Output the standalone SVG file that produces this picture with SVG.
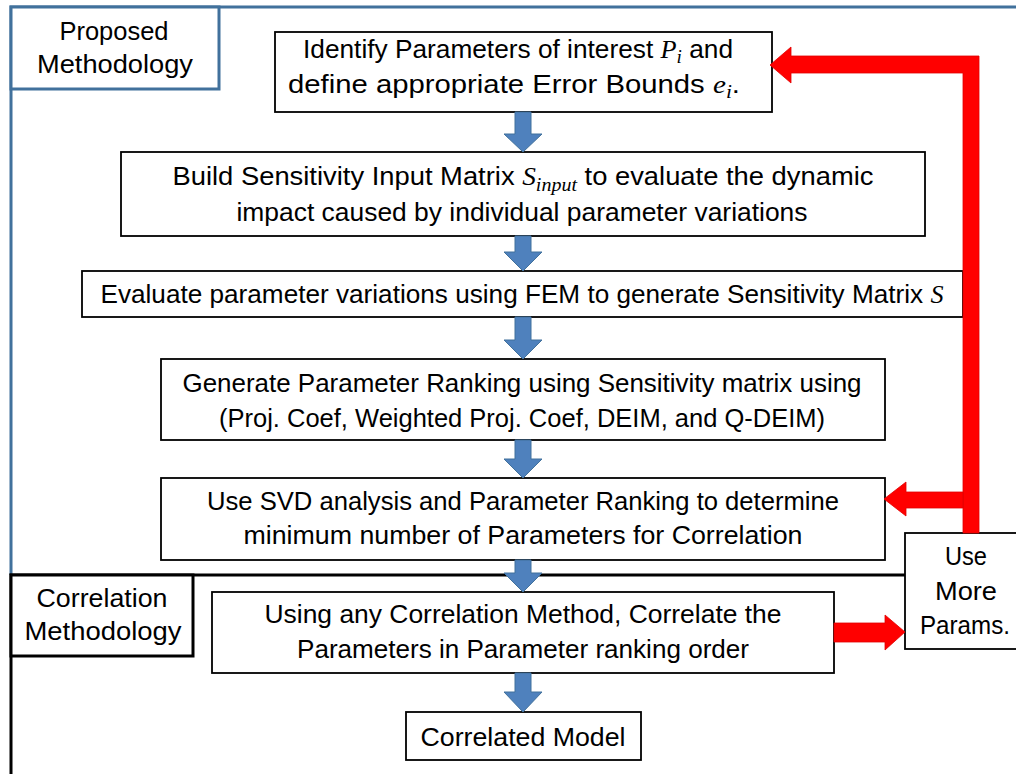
<svg xmlns="http://www.w3.org/2000/svg" width="1016" height="774" viewBox="0 0 1016 774">
  <style>
    .box { fill: #ffffff; stroke: #000000; stroke-width: 1.8; }
    .t { font-family: "Liberation Sans", Arial, sans-serif; font-size: 26px; fill: #000000; }
    .m { font-family: "Liberation Serif", "Times New Roman", serif; font-style: italic; }
    .sub { font-family: "Liberation Serif", "Times New Roman", serif; font-style: italic; font-size: 19px; }
    .flow { fill: #4F81BD; stroke: #41719C; stroke-width: 1; }
    .loop { fill: #FF0000; stroke: #E00000; stroke-width: 0.8; }
  </style>

  <rect width="1016" height="774" fill="#ffffff"/>

  <!-- section frames -->
  <g id="frame-proposed">
    <path d="M 11 575 L 11 7 L 1020 7" fill="none" stroke="#41719C" stroke-width="3"/>
    <rect x="11" y="7" width="208" height="82" fill="#ffffff" stroke="#41719C" stroke-width="3"/>
    <text class="t" x="114" y="40" text-anchor="middle" textLength="109" lengthAdjust="spacingAndGlyphs">Proposed</text>
    <text class="t" x="115" y="73" text-anchor="middle" textLength="156" lengthAdjust="spacingAndGlyphs">Methodology</text>
  </g>
  <g id="frame-correlation">
    <path d="M 11 774 L 11 575 L 905 575" fill="none" stroke="#000000" stroke-width="3"/>
    <rect x="11" y="575" width="182" height="81" fill="#ffffff" stroke="#000000" stroke-width="3"/>
    <text class="t" x="102" y="607" text-anchor="middle" textLength="131" lengthAdjust="spacingAndGlyphs">Correlation</text>
    <text class="t" x="103" y="640" text-anchor="middle" textLength="157" lengthAdjust="spacingAndGlyphs">Methodology</text>
  </g>

  <!-- process steps -->
  <g id="step-identify">
    <rect class="box" x="275" y="32" width="497" height="80"/>
    <text class="t" x="518" y="58" text-anchor="middle" textLength="430" lengthAdjust="spacingAndGlyphs">Identify Parameters of interest <tspan class="m">P</tspan><tspan class="sub" dy="5">i</tspan><tspan dy="-5"> and</tspan></text>
    <text class="t" x="514" y="93" text-anchor="middle" textLength="452" lengthAdjust="spacingAndGlyphs">define appropriate Error Bounds <tspan class="m">e</tspan><tspan class="sub" dy="5">i</tspan><tspan dy="-5">.</tspan></text>
  </g>
  <g id="step-input-matrix">
    <rect class="box" x="121" y="152" width="804" height="84"/>
    <text class="t" x="523" y="185" text-anchor="middle" textLength="701" lengthAdjust="spacingAndGlyphs">Build Sensitivity Input Matrix <tspan class="m">S</tspan><tspan class="sub" dy="6">input</tspan><tspan dy="-6"> to evaluate the dynamic</tspan></text>
    <text class="t" x="522" y="221" text-anchor="middle" textLength="571" lengthAdjust="spacingAndGlyphs">impact caused by individual parameter variations</text>
  </g>
  <g id="step-fem">
    <rect class="box" x="82" y="271" width="881" height="46"/>
    <text class="t" x="522" y="303" text-anchor="middle" textLength="843" lengthAdjust="spacingAndGlyphs">Evaluate parameter variations using FEM to generate Sensitivity Matrix <tspan class="m">S</tspan></text>
  </g>
  <g id="step-ranking">
    <rect class="box" x="161" y="359" width="724" height="81"/>
    <text class="t" x="522" y="392" text-anchor="middle" textLength="679" lengthAdjust="spacingAndGlyphs">Generate Parameter Ranking using Sensitivity matrix using</text>
    <text class="t" x="522" y="427" text-anchor="middle" textLength="606" lengthAdjust="spacingAndGlyphs">(Proj. Coef, Weighted Proj. Coef, DEIM, and Q-DEIM)</text>
  </g>
  <g id="step-svd">
    <rect class="box" x="161" y="478" width="724" height="82"/>
    <text class="t" x="523" y="510" text-anchor="middle" textLength="632" lengthAdjust="spacingAndGlyphs">Use SVD analysis and Parameter Ranking to determine</text>
    <text class="t" x="523" y="544" text-anchor="middle" textLength="559" lengthAdjust="spacingAndGlyphs">minimum number of Parameters for Correlation</text>
  </g>
  <g id="step-correlate">
    <rect class="box" x="212" y="592" width="622" height="81"/>
    <text class="t" x="523" y="623" text-anchor="middle" textLength="517" lengthAdjust="spacingAndGlyphs">Using any Correlation Method, Correlate the</text>
    <text class="t" x="523" y="658" text-anchor="middle" textLength="452" lengthAdjust="spacingAndGlyphs">Parameters in Parameter ranking order</text>
  </g>
  <g id="step-model">
    <rect class="box" x="406" y="712" width="235" height="48"/>
    <text class="t" x="523" y="746" text-anchor="middle" textLength="205" lengthAdjust="spacingAndGlyphs">Correlated Model</text>
  </g>
  <g id="step-more-params">
    <rect class="box" x="905" y="533" width="120" height="116"/>
    <text class="t" x="966" y="565" text-anchor="middle" textLength="42" lengthAdjust="spacingAndGlyphs">Use</text>
    <text class="t" x="966" y="600" text-anchor="middle" textLength="62" lengthAdjust="spacingAndGlyphs">More</text>
    <text class="t" x="965" y="634" text-anchor="middle" textLength="90" lengthAdjust="spacingAndGlyphs">Params.</text>
  </g>

  <!-- connectors -->
  <g id="connectors">
    <polygon class="flow" points="515,112 531,112 531,134 542,134 523,152 504,134 515,134"/>
    <polygon class="flow" points="515,236 531,236 531,252 542,252 523,271 504,252 515,252"/>
    <polygon class="flow" points="515,317 531,317 531,340 542,340 523,359 504,340 515,340"/>
    <polygon class="flow" points="515,440 531,440 531,459 542,459 523,478 504,459 515,459"/>
    <polygon class="flow" points="515,560 531,560 531,573 542,573 523,592 504,573 515,573"/>
    <polygon class="flow" points="515,673 531,673 531,692 542,692 523,712 504,692 515,692"/>

    <polygon class="loop" points="979,533 979,56 791,56 791,47 770,65 791,83 791,73 963,73 963,533"/>
    <polygon class="loop" points="963,492 906,492 906,482 884,499 906,516 906,508 963,508"/>
    <polygon class="loop" points="834,623 885,623 885,615 905,632 885,650 885,642 834,642"/>
  </g>
</svg>
